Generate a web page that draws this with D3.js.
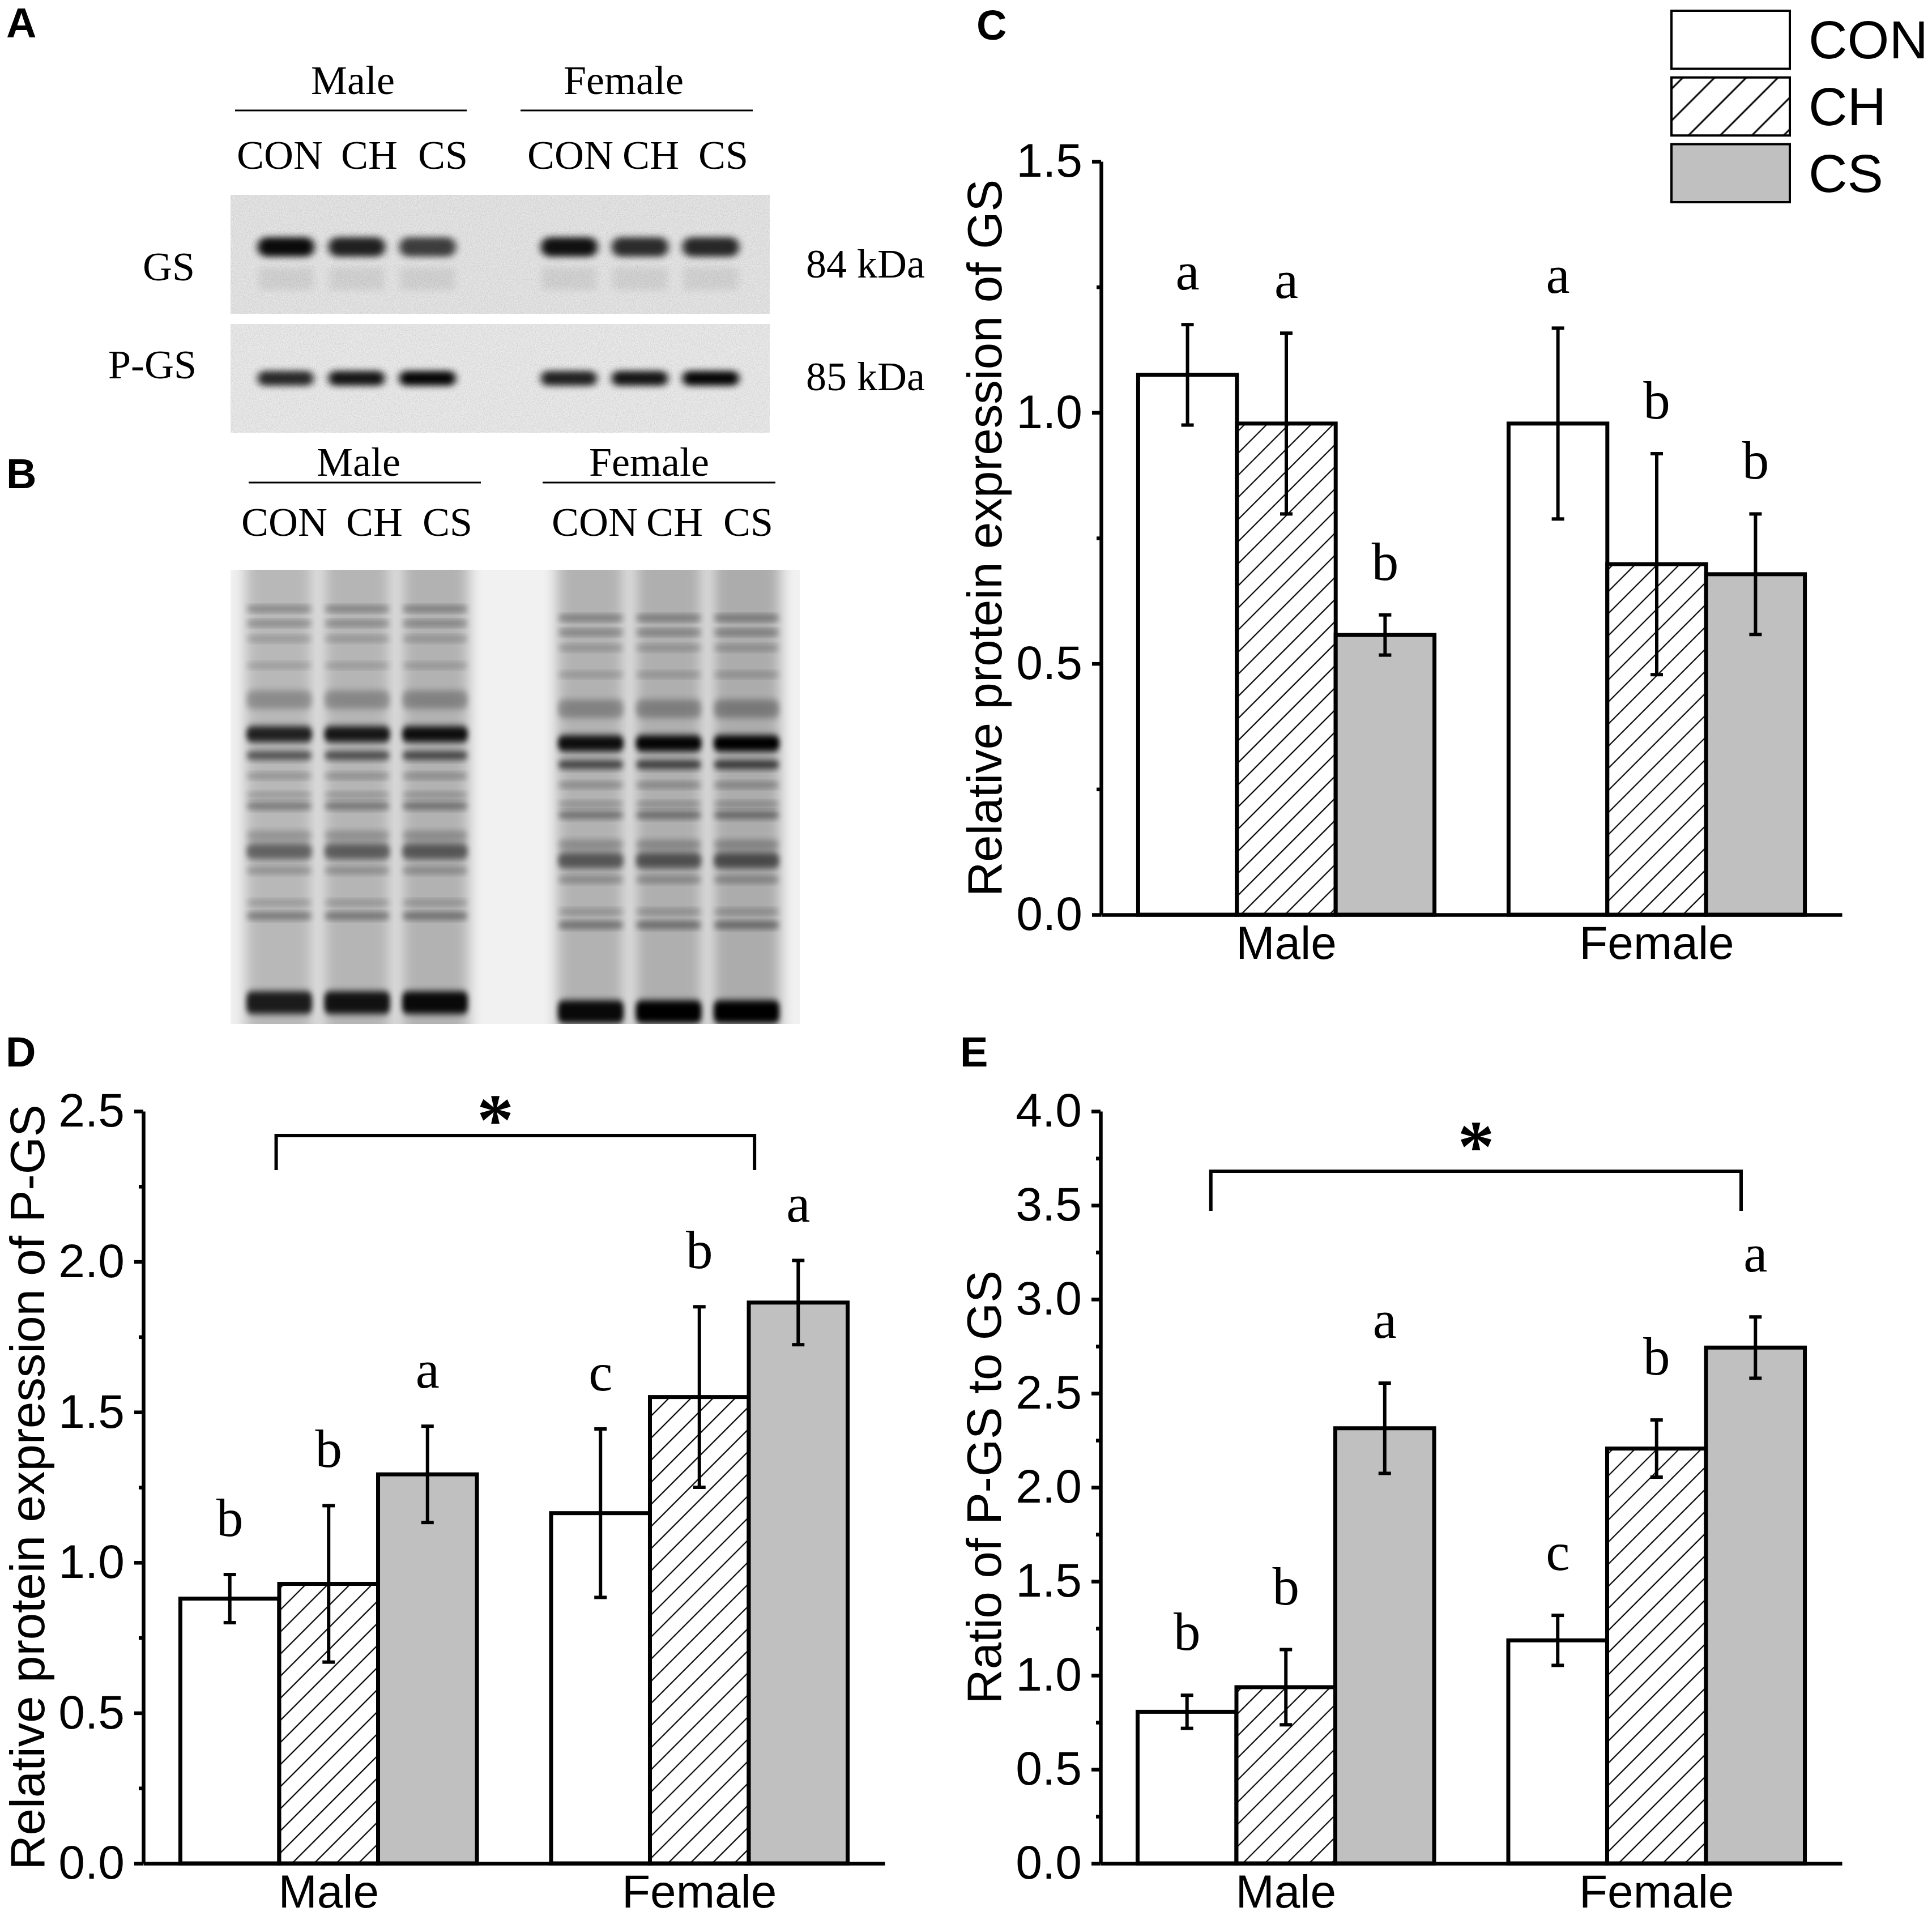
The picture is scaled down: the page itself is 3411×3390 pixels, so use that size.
<!DOCTYPE html>
<html>
<head>
<meta charset="utf-8">
<script src="https://cdn.jsdelivr.net/npm/d3@7/dist/d3.min.js"></script>
<style>
  body { margin: 0; background: #fff; }
  svg { display: block; }
</style>
</head>
<body>
<div id="fig"></div>
<script>
const W = 3411, H = 3390;
const SANS = "'Liberation Sans', Arial, sans-serif";
const SERIF = "'Liberation Serif', 'Times New Roman', serif";

const groups = ["Male", "Female"];
const treatments = ["CON", "CH", "CS"];

// C: relative protein expression of GS
const gsMale = [1.075, 0.978, 0.557];
const gsFemale = [0.978, 0.698, 0.678];
const gsMaleErr = [0.10, 0.18, 0.04];
const gsFemaleErr = [0.19, 0.22, 0.12];
const gsMaleLetters = ["a", "a", "b"];
const gsFemaleLetters = ["a", "b", "b"];
const gsTicks = [0, 0.5, 1.0, 1.5];

// D: relative protein expression of P-GS
const pgsMale = [0.880, 0.929, 1.293];
const pgsFemale = [1.164, 1.550, 1.864];
const pgsMaleErr = [0.08, 0.26, 0.16];
const pgsFemaleErr = [0.28, 0.30, 0.14];
const pgsMaleLetters = ["b", "b", "a"];
const pgsFemaleLetters = ["c", "b", "a"];
const pgsTicks = [0, 0.5, 1.0, 1.5, 2.0, 2.5];

// E: ratio of P-GS to GS
const ratioMale = [0.806, 0.937, 2.314];
const ratioFemale = [1.186, 2.206, 2.743];
const ratioMaleErr = [0.088, 0.20, 0.24];
const ratioFemaleErr = [0.133, 0.152, 0.163];
const ratioMaleLetters = ["b", "b", "a"];
const ratioFemaleLetters = ["c", "b", "a"];
const ratioTicks = [0, 0.5, 1.0, 1.5, 2.0, 2.5, 3.0, 3.5, 4.0];

// A/B: blot lanes and band densities (0..1)
const laneSlots = ["M-CON", "M-CH", "M-CS", "gap", "F-CON", "F-CH", "F-CS"];
const lanes = ["M-CON", "M-CH", "M-CS", "F-CON", "F-CH", "F-CS"];
const gsBandDensity = [0.95, 0.85, 0.72, 0.92, 0.8, 0.82];
const pgsBandDensity = [0.82, 0.9, 0.97, 0.85, 0.9, 0.97];
const gelBandPos = [0.086, 0.118, 0.152, 0.211, 0.286, 0.362, 0.409, 0.454, 0.496, 0.520, 0.585, 0.620, 0.662, 0.733, 0.762, 0.953];
const gelBandDensity = [0.4, 0.35, 0.25, 0.22, 0.28, 0.97, 0.7, 0.3, 0.25, 0.45, 0.25, 0.55, 0.3, 0.25, 0.45, 1.0];
const gelBandSpread = [0.012, 0.012, 0.012, 0.012, 0.04, 0.035, 0.018, 0.012, 0.012, 0.015, 0.02, 0.035, 0.014, 0.012, 0.015, 0.05];
const gelLaneLoad = [0.85, 0.9, 0.95, 0.95, 1.0, 1.05];

const svg = d3.select("#fig").append("svg")
  .attr("width", W).attr("height", H)
  .attr("viewBox", `0 0 ${W} ${H}`);
svg.append("rect").attr("width", W).attr("height", H).attr("fill", "#fff");

const defs = svg.append("defs");

function hatch(id, gap, sw) {
  const p = defs.append("pattern").attr("id", id)
    .attr("patternUnits", "userSpaceOnUse")
    .attr("width", gap).attr("height", gap)
    .attr("patternTransform", "rotate(45)");
  p.append("rect").attr("width", gap).attr("height", gap).attr("fill", "#fff");
  p.append("line").attr("x1", gap / 2).attr("x2", gap / 2)
    .attr("y1", 0).attr("y2", gap)
    .attr("stroke", "#000").attr("stroke-width", sw);
}
hatch("hatch", 27.6, 2.2);
hatch("hatchLegend", 39.6, 3);

function blur(id, sd) {
  defs.append("filter").attr("id", id)
    .attr("x", "-50%").attr("y", "-50%").attr("width", "200%").attr("height", "200%")
    .append("feGaussianBlur").attr("stdDeviation", sd);
}
blur("bandBlur", "7 6");
blur("gelBlur", "5 6");
blur("laneBlur", "12 4");

// film grain, kept inside the strip it is applied to
const grain = defs.append("filter").attr("id", "grain")
  .attr("x", "0%").attr("y", "0%").attr("width", "100%").attr("height", "100%");
grain.append("feTurbulence").attr("type", "fractalNoise")
  .attr("baseFrequency", 0.6).attr("numOctaves", 2).attr("seed", 4);
grain.append("feColorMatrix").attr("type", "matrix")
  .attr("values", "0 0 0 0 0  0 0 0 0 0  0 0 0 0 0  0 0 0 0.6 -0.2");

const fills = { CON: "#fff", CH: "url(#hatch)", CS: "#c0c0c0" };

function panelLabel(t, x, y) {
  svg.append("text").attr("x", x).attr("y", y).text(t)
    .attr("font-family", SANS).attr("font-weight", "bold")
    .attr("font-size", 74).attr("fill", "#000");
}

function barPanel(o) {
  const g = svg.append("g");
  const y = d3.scaleLinear().domain([0, o.max]).range([o.y0, o.yTop]);
  const xg = d3.scaleBand().domain(groups).range([o.x0, o.x1])
    .paddingInner(0.2).paddingOuter(0.1);
  const xt = d3.scaleBand().domain(treatments).range([0, xg.bandwidth()]);

  const rows = groups.flatMap((grp, gi) => treatments.map((t, ti) => ({
    grp, t,
    v: o.means[gi][ti], e: o.errs[gi][ti], l: o.letters[gi][ti],
    cx: xg(grp) + xt(t) + xt.bandwidth() / 2
  })));

  g.selectAll("rect.bar").data(rows).join("rect").attr("class", "bar")
    .attr("x", d => xg(d.grp) + xt(d.t))
    .attr("width", xt.bandwidth())
    .attr("y", d => y(d.v))
    .attr("height", d => o.y0 - y(d.v))
    .attr("fill", d => fills[d.t])
    .attr("stroke", "#000").attr("stroke-width", 7);

  const eb = g.selectAll("g.err").data(rows).join("g").attr("class", "err")
    .attr("stroke", "#000").attr("stroke-width", 6);
  eb.append("line").attr("x1", d => d.cx).attr("x2", d => d.cx)
    .attr("y1", d => y(d.v + d.e)).attr("y2", d => y(d.v - d.e));
  eb.append("line").attr("x1", d => d.cx - 11).attr("x2", d => d.cx + 11)
    .attr("y1", d => y(d.v + d.e)).attr("y2", d => y(d.v + d.e));
  eb.append("line").attr("x1", d => d.cx - 11).attr("x2", d => d.cx + 11)
    .attr("y1", d => y(d.v - d.e)).attr("y2", d => y(d.v - d.e));

  g.selectAll("text.letter").data(rows).join("text").attr("class", "letter")
    .attr("x", d => d.cx).attr("y", d => y(d.v + d.e) - o.letterGap)
    .attr("text-anchor", "middle")
    .attr("font-family", SERIF).attr("font-size", 95)
    .text(d => d.l);

  if (o.bracket) {
    const b = o.bracket;
    const lx = xg("Male") + b.from * xg.bandwidth();
    const rx = xg("Female") + b.to * xg.bandwidth();
    g.append("path")
      .attr("d", `M${lx},${b.y + b.drop}V${b.y}H${rx}V${b.y + b.drop}`)
      .attr("fill", "none").attr("stroke", "#000").attr("stroke-width", 6);
    g.append("text").attr("x", lx + b.star * (rx - lx)).attr("y", b.y - b.starGap)
      .attr("text-anchor", "middle")
      .attr("font-family", SERIF).attr("font-weight", "bold").attr("font-size", 130)
      .text("*");
  }

  const minor = d3.range(0, o.ticks.length - 1).map(i => (o.ticks[i] + o.ticks[i + 1]) / 2);
  const ay = g.append("g").attr("transform", `translate(${o.x0},0)`)
    .call(d3.axisLeft(y).tickValues(o.ticks).tickFormat(d3.format(".1f"))
      .tickSize(16).tickPadding(17).tickSizeOuter(0));
  const am = g.append("g").attr("transform", `translate(${o.x0},0)`)
    .call(d3.axisLeft(y).tickValues(minor).tickFormat("").tickSize(8));
  am.select(".domain").remove();
  const ax = g.append("g").attr("transform", `translate(0,${o.y0})`)
    .call(d3.axisBottom(xg).tickSize(0).tickPadding(20).tickSizeOuter(0));

  [ay, am, ax].forEach(a => {
    a.selectAll("path,line").attr("stroke", "#000").attr("stroke-width", 6.5);
    a.selectAll("text").attr("font-family", SANS).attr("font-size", 84).attr("fill", "#000");
  });
  ax.selectAll("text").attr("font-size", 82);

  g.append("text")
    .attr("transform", `translate(${o.titleX},${(o.y0 + o.yTop) / 2}) rotate(-90)`)
    .attr("text-anchor", "middle")
    .attr("font-family", SANS).attr("font-size", 85)
    .text(o.title);
}

barPanel({
  x0: 1944, x1: 3252, y0: 1615, yTop: 285, max: 1.5, ticks: gsTicks,
  means: [gsMale, gsFemale], errs: [gsMaleErr, gsFemaleErr],
  letters: [gsMaleLetters, gsFemaleLetters], letterGap: 62,
  title: "Relative protein expression of GS", titleX: 1768
});
barPanel({
  x0: 253, x1: 1562, y0: 3290, yTop: 1962, max: 2.5, ticks: pgsTicks,
  means: [pgsMale, pgsFemale], errs: [pgsMaleErr, pgsFemaleErr],
  letters: [pgsMaleLetters, pgsFemaleLetters], letterGap: 68,
  title: "Relative protein expression of P-GS", titleX: 78,
  bracket: { y: 2005, drop: 61, from: 0.323, to: 0.686, star: 0.458, starGap: -16 }
});
barPanel({
  x0: 1943, x1: 3252, y0: 3290, yTop: 1962, max: 4.0, ticks: ratioTicks,
  means: [ratioMale, ratioFemale], errs: [ratioMaleErr, ratioFemaleErr],
  letters: [ratioMaleLetters, ratioFemaleLetters], letterGap: 80,
  title: "Ratio of P-GS to GS", titleX: 1767,
  bracket: { y: 2068, drop: 70, from: 0.247, to: 0.785, star: 0.5, starGap: 0 }
});

// legend (panel C)
const leg = svg.append("g");
const ly = d3.scaleBand().domain(treatments).range([19, 357]).paddingInner(0.13);
treatments.forEach(t => {
  leg.append("rect").attr("x", 2951).attr("y", ly(t))
    .attr("width", 209).attr("height", ly.bandwidth())
    .attr("fill", t === "CH" ? "url(#hatchLegend)" : fills[t])
    .attr("stroke", "#000").attr("stroke-width", 4);
  leg.append("text").attr("x", 3193).attr("y", ly(t) + ly.bandwidth() / 2 + 33)
    .attr("font-family", SANS).attr("font-size", 95).text(t);
});

// blot header helper
function blotHeader(g, base, lineY, centers, lines, starts, tBase) {
  groups.forEach((grp, i) => {
    g.append("text").attr("x", centers[i]).attr("y", base).attr("text-anchor", "middle")
      .attr("font-family", SERIF).attr("font-size", 72).text(grp);
    g.append("line").attr("x1", lines[i][0]).attr("x2", lines[i][1])
      .attr("y1", lineY).attr("y2", lineY).attr("stroke", "#000").attr("stroke-width", 3);
  });
  starts.forEach((sx, i) => {
    g.append("text").attr("x", sx).attr("y", tBase)
      .attr("font-family", SERIF).attr("font-size", 72).text(treatments[i % 3]);
  });
}

// Panel A: western blot
const A = svg.append("g");
blotHeader(A, 166, 195, [623, 1101], [[415, 824], [919, 1329]],
  [418, 602, 738, 931, 1099, 1233], 298);

const laneA = d3.scalePoint().domain(laneSlots).range([505, 1255]);
function strip(g, x, y, w, h, bg) {
  g.append("rect").attr("x", x).attr("y", y).attr("width", w).attr("height", h).attr("fill", bg);
  g.append("rect").attr("x", x).attr("y", y).attr("width", w).attr("height", h)
    .attr("fill", "#000").attr("filter", "url(#grain)").attr("opacity", 0.35);
}
strip(A, 407, 344, 952, 210, "#e6e6e6");
strip(A, 407, 572, 952, 192, "#ebebeb");

A.selectAll("rect.gsFaint").data(lanes).join("rect").attr("class", "gsFaint")
  .attr("x", d => laneA(d) - 48).attr("y", 472).attr("width", 96).attr("height", 40)
  .attr("fill", "#000").attr("opacity", 0.07).attr("filter", "url(#bandBlur)");
A.selectAll("rect.gs").data(lanes).join("rect").attr("class", "gs")
  .attr("x", d => laneA(d) - 50).attr("y", 419).attr("width", 100).attr("height", 34)
  .attr("rx", 16)
  .attr("fill", "#000").attr("opacity", (d, i) => gsBandDensity[i])
  .attr("filter", "url(#bandBlur)");
A.selectAll("rect.pgs").data(lanes).join("rect").attr("class", "pgs")
  .attr("x", d => laneA(d) - 46 - 4).attr("y", 655).attr("width", (d, i) => 92 + 8 * pgsBandDensity[i])
  .attr("height", 26).attr("rx", 12)
  .attr("fill", "#000").attr("opacity", (d, i) => pgsBandDensity[i])
  .attr("filter", "url(#bandBlur)");

A.append("text").attr("x", 344).attr("y", 495).attr("text-anchor", "end")
  .attr("font-family", SERIF).attr("font-size", 72).text("GS");
A.append("text").attr("x", 347).attr("y", 668).attr("text-anchor", "end")
  .attr("font-family", SERIF).attr("font-size", 72).text("P-GS");
A.append("text").attr("x", 1423).attr("y", 490)
  .attr("font-family", SERIF).attr("font-size", 72).text("84 kDa");
A.append("text").attr("x", 1423).attr("y", 689)
  .attr("font-family", SERIF).attr("font-size", 72).text("85 kDa");

// Panel B: stained gel
const B = svg.append("g");
blotHeader(B, 840, 852, [633, 1146], [[439, 849], [958, 1369]],
  [426, 611, 746, 974, 1141, 1277], 946);

const gelX = 407, gelY = 1006, gelW = 1005, gelH = 802;
const laneB = d3.scalePoint().domain(laneSlots).range([493, 1318]);
const gelY2 = d3.scaleLinear().domain([0, 1]).range([gelY, gelY + gelH]);
B.append("rect").attr("x", gelX).attr("y", gelY).attr("width", gelW).attr("height", gelH)
  .attr("fill", "#f1f1f1");
const gel = B.append("g");
gel.append("clipPath").attr("id", "gelClip").append("rect")
  .attr("x", gelX).attr("y", gelY).attr("width", gelW).attr("height", gelH);
gel.attr("clip-path", "url(#gelClip)");
gel.selectAll("rect.lane").data(lanes).join("rect").attr("class", "lane")
  .attr("x", d => laneB(d) - 60).attr("y", gelY - 20).attr("width", 120).attr("height", gelH + 40)
  .attr("fill", "#000").attr("opacity", (d, i) => 0.27 * gelLaneLoad[i])
  .attr("filter", "url(#laneBlur)");
const gelRows = lanes.flatMap((ln, li) => gelBandPos.map((p, bi) => ({
  ln, li, p: p + (li > 2 ? 0.02 : 0), dens: gelBandDensity[bi], spread: gelBandSpread[bi]
})));
gel.selectAll("rect.band").data(gelRows).join("rect").attr("class", "band")
  .attr("x", d => laneB(d.ln) - 58)
  .attr("y", d => gelY2(d.p - d.spread / 2))
  .attr("width", 116)
  .attr("height", d => gelY2(d.spread) - gelY)
  .attr("rx", 10)
  .attr("fill", "#000")
  .attr("opacity", d => Math.min(1, d.dens * gelLaneLoad[d.li]))
  .attr("filter", "url(#gelBlur)");

panelLabel("A", 11, 66);
panelLabel("B", 11, 862);
panelLabel("C", 1724, 70);
panelLabel("D", 10, 1883);
panelLabel("E", 1695, 1883);
</script>
</body>
</html>
